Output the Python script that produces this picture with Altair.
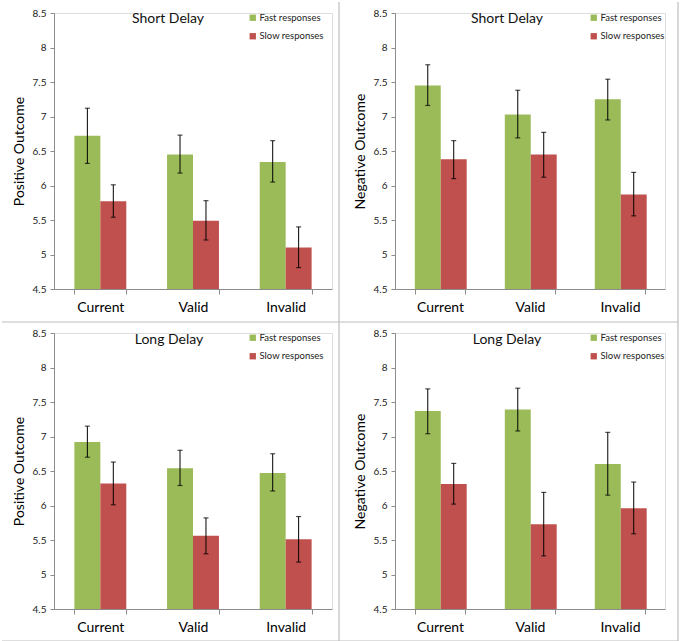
import altair as alt
import pandas as pd

categories = ["Current", "Valid", "Invalid"]
speeds = ["Fast responses", "Slow responses"]
colors = ["#9BBB59", "#C0504D"]

# Short delay, positive outcome
sp_fast = [6.72, 6.45, 6.34]
sp_fast_lo = [6.32, 6.18, 6.05]
sp_fast_hi = [7.12, 6.73, 6.65]
sp_slow = [5.77, 5.49, 5.10]
sp_slow_lo = [5.54, 5.21, 4.81]
sp_slow_hi = [6.01, 5.78, 5.40]

# Short delay, negative outcome
sn_fast = [7.45, 7.03, 7.25]
sn_fast_lo = [7.16, 6.69, 6.95]
sn_fast_hi = [7.75, 7.38, 7.54]
sn_slow = [6.38, 6.45, 5.87]
sn_slow_lo = [6.10, 6.12, 5.56]
sn_slow_hi = [6.65, 6.77, 6.19]

# Long delay, positive outcome
lp_fast = [6.92, 6.54, 6.47]
lp_fast_lo = [6.70, 6.29, 6.21]
lp_fast_hi = [7.15, 6.80, 6.75]
lp_slow = [6.32, 5.56, 5.51]
lp_slow_lo = [6.01, 5.30, 5.18]
lp_slow_hi = [6.63, 5.82, 5.84]

# Long delay, negative outcome
ln_fast = [7.37, 7.39, 6.60]
ln_fast_lo = [7.04, 7.08, 6.15]
ln_fast_hi = [7.69, 7.70, 7.06]
ln_slow = [6.31, 5.73, 5.96]
ln_slow_lo = [6.02, 5.27, 5.59]
ln_slow_hi = [6.61, 6.19, 6.34]

y_ticks = [4.5, 5, 5.5, 6, 6.5, 7, 7.5, 8, 8.5]
FONT = "Lato"
BORDER = "#BDBDBD"


def make_df(fast, flo, fhi, slow, slo, shi):
    rows = []
    for i, c in enumerate(categories):
        rows.append({"cat": c, "speed": speeds[0], "mean": fast[i], "lo": flo[i], "hi": fhi[i]})
        rows.append({"cat": c, "speed": speeds[1], "mean": slow[i], "lo": slo[i], "hi": shi[i]})
    return pd.DataFrame(rows)


def panel(df, ytitle, title, width, height, title_x, title_y, rules):
    xaxis = alt.Axis(labelAngle=0, labelFontSize=14, labelColor="#000000", labelFont=FONT,
                     domainColor="#8C8C8C", tickColor="#8C8C8C", tickSize=5,
                     tickBand="extent", labelPadding=6, grid=False)
    xscale = alt.Scale(paddingInner=0.44, paddingOuter=0.22)
    xenc = alt.X("cat:N", sort=categories, title=None, scale=xscale, axis=xaxis)
    xoff = alt.XOffset("speed:N", sort=speeds)
    yscale = alt.Scale(domain=[4.5, 8.5], nice=False, zero=False)
    yaxis = alt.Axis(values=y_ticks, tickCount=12, format="~g", labelFontSize=10,
                     labelColor="#222222",
                     labelFont=FONT, titleFont=FONT, titleFontSize=14, titleFontWeight="normal",
                     titleColor="#000000", titlePadding=6, domainColor="#8C8C8C",
                     tickColor="#8C8C8C", tickSize=4, labelPadding=4, grid=False,
                     labelOverlap=False, labelFlush=False)
    base = alt.Chart(df)
    bars = base.mark_bar().encode(
        x=xenc, xOffset=xoff,
        y=alt.Y("mean:Q", scale=yscale, title=ytitle, axis=yaxis), y2=alt.datum(4.5),
        color=alt.Color("speed:N", sort=speeds,
                        scale=alt.Scale(domain=speeds, range=colors),
                        legend=alt.Legend(orient="none", legendX=194, legendY=0, title=None,
                                          symbolType="square", symbolSize=40, symbolStrokeWidth=0,
                                          labelFontSize=9.5, labelFont=FONT, labelColor="#222222",
                                          rowPadding=7.5, labelOffset=2, padding=0)),
    )
    err = base.mark_rule(color="#000000", strokeWidth=1).encode(
        x=xenc, xOffset=xoff,
        y=alt.Y("lo:Q", scale=yscale, title=ytitle, axis=yaxis), y2="hi:Q",
    )
    cap_lo = base.mark_tick(color="#000000", size=5, thickness=1.2).encode(
        x=xenc, xOffset=xoff, y=alt.Y("lo:Q", scale=yscale, title=ytitle, axis=yaxis),
    )
    cap_hi = base.mark_tick(color="#000000", size=5, thickness=1.2).encode(
        x=xenc, xOffset=xoff, y=alt.Y("hi:Q", scale=yscale, title=ytitle, axis=yaxis),
    )
    tdf = pd.DataFrame({"t": [title]})
    ttl = alt.Chart(tdf).mark_text(font=FONT, fontSize=14, color="#111111",
                                   baseline="middle", align="center").encode(
        x=alt.value(title_x), y=alt.value(title_y), text="t:N")
    layers = [bars, err, cap_lo, cap_hi, ttl]
    for (x1, x2, y1, y2) in rules:
        rdf = pd.DataFrame({"r": [0]})
        layers.append(alt.Chart(rdf).mark_rule(color=BORDER, strokeWidth=1.2).encode(
            x=alt.value(x1), x2=alt.value(x2), y=alt.value(y1), y2=alt.value(y2)))
    return alt.layer(*layers).properties(width=width, height=height)


W1, W2, H = 278, 270, 276

p1 = panel(make_df(sp_fast, sp_fast_lo, sp_fast_hi, sp_slow, sp_slow_lo, sp_slow_hi),
           "Positive Outcome", "Short Delay", W1, H, 114, 6,
           [(285, 285, -11, 628), (-52, 624, 309, 309)])
p2 = panel(make_df(sn_fast, sn_fast_lo, sn_fast_hi, sn_slow, sn_slow_lo, sn_slow_hi),
           "Negative Outcome", "Short Delay", W2, H, 112, 6,
           [(283, 283, -11, 628)])
p3 = panel(make_df(lp_fast, lp_fast_lo, lp_fast_hi, lp_slow, lp_slow_lo, lp_slow_hi),
           "Positive Outcome", "Long Delay", W1, H, 115, 7,
           [(-52, 624, 308, 308)])
p4 = panel(make_df(ln_fast, ln_fast_lo, ln_fast_hi, ln_slow, ln_slow_lo, ln_slow_hi),
           "Negative Outcome", "Long Delay", W2, H, 112, 7, [])

chart = alt.concat(p1, p2, p3, p4, columns=2, spacing={"row": 44, "column": 63},
                   bounds="flush").resolve_legend(color="independent").resolve_scale(
    color="independent").configure_view(stroke=None).configure(
    padding=0, background="#FFFFFF")

chart.save("out.html", embed_options={"renderer": "svg", "actions": False})
